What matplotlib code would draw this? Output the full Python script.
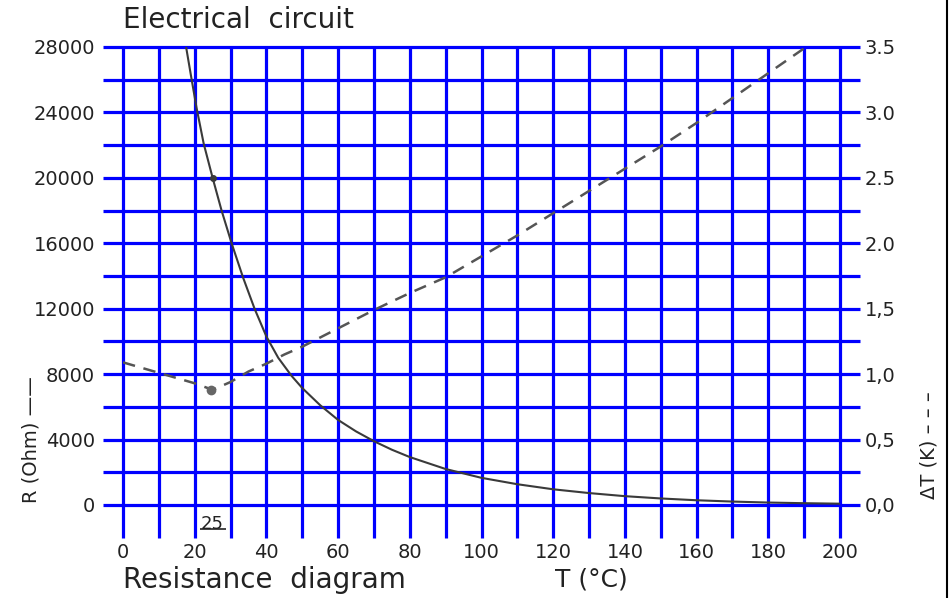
import numpy as np
import matplotlib.pyplot as plt
from matplotlib.lines import Line2D

# resistance curve R(T)
t_r = [17.6, 19, 20.5, 22.5, 25, 27.5, 30.3, 33.5, 36.7, 40, 43.3, 47, 50, 55, 60, 65,
       70, 75, 80, 90, 100, 110, 120, 130, 140, 150, 160, 170, 180, 190, 200]
r_ohm = [28000, 26200, 24300, 22100, 20000, 18000, 16000, 13900, 12000, 10300, 9000, 7900,
         7150, 6100, 5200, 4500, 3900, 3380, 2930, 2200, 1660, 1270, 960, 730, 540, 400,
         290, 210, 150, 110, 80]

# self heating curve dT(T)
t_dt = [0, 5, 10, 15, 20, 25, 30, 35, 40, 45, 50, 60, 70, 80, 90, 100, 110, 120, 130,
        140, 150, 160, 170, 180, 190]
dt_k = [1.09, 1.05, 1.01, 0.97, 0.93, 0.88, 0.94, 1.02, 1.08, 1.15, 1.21, 1.35, 1.49,
        1.62, 1.74, 1.90, 2.06, 2.23, 2.40, 2.57, 2.74, 2.92, 3.11, 3.30, 3.49]

# reference point at 25 C
t_ref = 25
r_ref = 20000
dt_ref = 0.88

x_ticks = list(range(0, 201, 20))
r_ticks = list(range(0, 28001, 4000))
dt_ticks = [0.0, 0.5, 1.0, 1.5, 2.0, 2.5, 3.0, 3.5]
dt_labels = ["0,0", "0,5", "1,0", "1,5", "2.0", "2.5", "3.0", "3.5"]

grid_blue = "#0000ff"
txt = "#222222"

fig = plt.figure(figsize=(9.49, 5.98), dpi=100)
ax = fig.add_axes([123/949, 1-505/598, (840-123)/949, (505-47)/598])
ax.set_xlim(0, 200)
ax.set_ylim(0, 28000)

# blue grid, lines run a bit past the frame like on the sheet
ax.vlines(np.arange(0, 201, 10), -2000, 28000, color=grid_blue, lw=2.3, clip_on=False, zorder=1)
ax.hlines(np.arange(0, 28001, 2000), -5.5, 205.5, color=grid_blue, lw=2.3, clip_on=False, zorder=1)

ax.plot(t_r, r_ohm, color="#3a3a3a", lw=1.5, zorder=3)
ax.plot([t_ref], [r_ref], "o", color="#3a3a3a", ms=4, zorder=4)

for s in ax.spines.values():
    s.set_visible(False)
ax.set_xticks(x_ticks)
ax.set_yticks(r_ticks)
ax.tick_params(axis="x", length=0, pad=27, labelsize=14, labelcolor=txt)
ax.tick_params(axis="y", length=0, pad=20, labelsize=14, labelcolor=txt)

ax2 = ax.twinx()
ax2.set_ylim(0, 3.5)
ax2.plot(t_dt, dt_k, color="#555555", lw=1.8, dashes=(5, 3.5), zorder=3)
ax2.plot([t_ref - 0.5], [dt_ref], "o", color="#666666", ms=6, zorder=4)
for s in ax2.spines.values():
    s.set_visible(False)
ax2.set_yticks(dt_ticks)
ax2.set_yticklabels(dt_labels)
ax2.tick_params(axis="y", length=0, pad=18, labelsize=14, labelcolor=txt)

# 25 mark below the axis, underlined
ax.text(t_ref, -1150, "25", ha="center", va="center", fontsize=13, color=txt, clip_on=False)
ax.hlines(-1450, t_ref - 3.6, t_ref + 3.6, color=txt, lw=1.2, clip_on=False)

fig.text(123/949, 1-20/598, "Electrical  circuit", fontsize=20, color=txt, ha="left", va="center")
fig.text(123/949, 1-580/598, "Resistance  diagram", fontsize=20, color=txt, ha="left", va="center")
fig.text(555/949, 1-580/598, "T (°C)", fontsize=18, color=txt, ha="left", va="center")
fig.text(31/949, 1-440/598, "R (Ohm) ——", fontsize=14, color=txt, rotation=90, ha="center", va="center")
fig.text(929/949, 1-445/598, "ΔT (K) – – –", fontsize=14, color=txt, rotation=90, ha="center", va="center")

fig.add_artist(Line2D([0.998, 0.998], [0, 1], color="black", lw=1.5, transform=fig.transFigure))

fig.savefig("out.png", dpi=100)
